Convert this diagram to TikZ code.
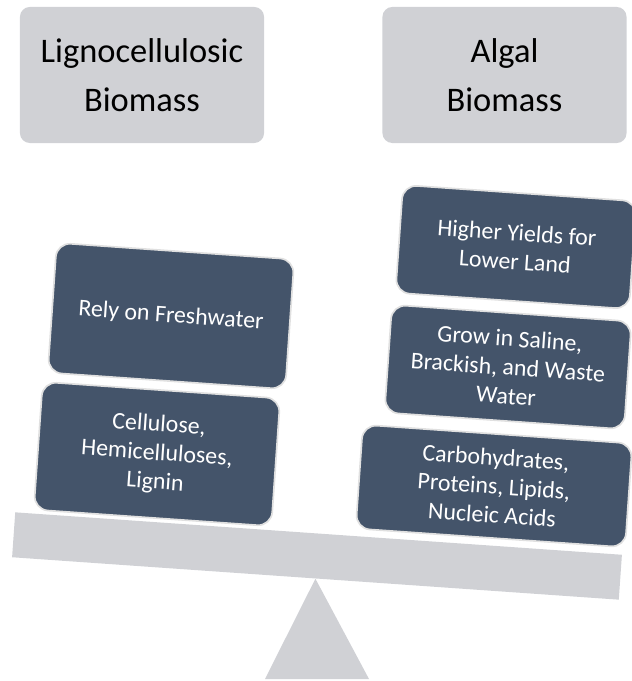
\documentclass[tikz,border=0pt]{standalone}
\usepackage{fontspec}
\setmainfont{Carlito}
\usepackage{xcolor}
\usepackage{tikz}
\definecolor{balgray}{RGB}{208,209,213}
\definecolor{slateblue}{RGB}{68,84,106}

\begin{document}
\begin{tikzpicture}[
  x=0.025cm, y=-0.025cm,
  head/.style={rectangle, fill=balgray, rounded corners=7pt,
               minimum width=6.1cm, minimum height=3.4cm,
               align=center, font=\fontsize{24.5}{34.5}\selectfont},
  card/.style={rectangle, fill=slateblue, draw=black!12, line width=1.2pt,
               rounded corners=10pt, rotate=-4, text=white,
               align=center, inner sep=2pt,
               font=\fontsize{17}{20.5}\selectfont},
  beam/.style={rectangle, fill=balgray, rotate=-4, inner sep=0pt,
               minimum width=15.2cm, minimum height=1.125cm},
]
\useasboundingbox (0,0) rectangle (631,681);

%% ── Headings ───────────────────────────────────────────────────────────
\node[head] (lig) at (142,75)   {Lignocellulosic\\Biomass};
\node[head] (alg) at (504.5,75) {Algal\\Biomass};

%% ── Balance ────────────────────────────────────────────────────────────
\node[beam] (beam) at (317,556) {};
\fill[balgray] (beam.south) -- (265,679) -- (369,679) -- cycle;

%% ── Left pan ───────────────────────────────────────────────────────────
\node[card, minimum width=5.95cm, minimum height=3.25cm] (rely) at (171,316)
  {Rely on Freshwater};
\node[card, minimum width=5.95cm, minimum height=3.2cm] (cell) at (157,454)
  {Cellulose,\\Hemicelluloses,\\Lignin};

%% ── Right pan ──────────────────────────────────────────────────────────
\node[card, minimum width=5.85cm, minimum height=2.7cm] (high) at (516,247)
  {Higher Yields for\\Lower Land};
\node[card, minimum width=6.0cm, minimum height=2.7cm] (grow) at (508,367)
  {Grow in Saline,\\Brackish, and Waste\\Water};
\node[card, minimum width=6.75cm, minimum height=2.6cm] (carb) at (494,486)
  {Carbohydrates,\\Proteins, Lipids,\\Nucleic Acids};

\end{tikzpicture}
\end{document}
